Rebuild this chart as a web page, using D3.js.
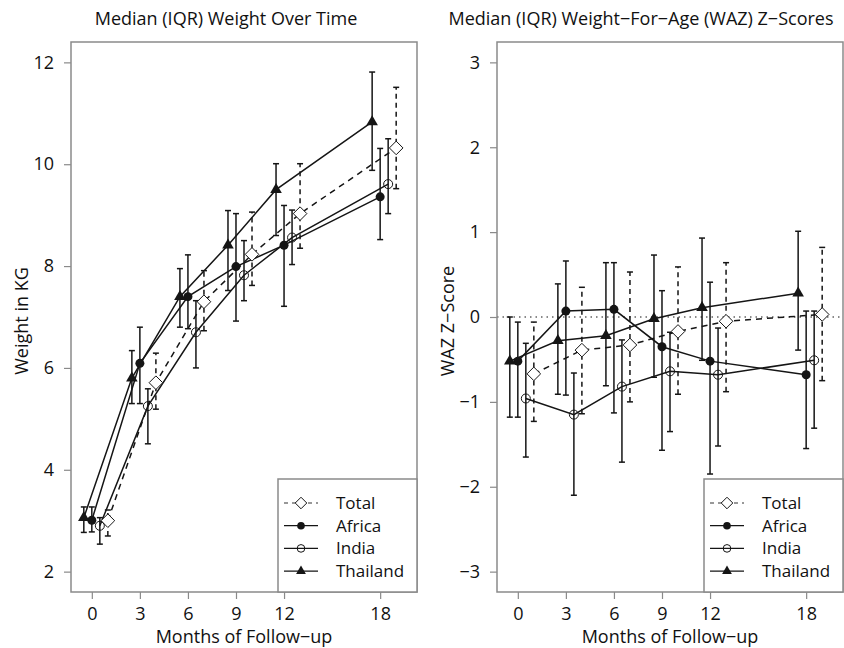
<!DOCTYPE html>
<html>
<head>
<meta charset="utf-8">
<script src="https://cdn.jsdelivr.net/npm/d3@7"></script>
<style>
  body { margin: 0; background: #fff; }
  svg text { font-family: "Open Sans", "Noto Sans", sans-serif; fill: #111; }
</style>
</head>
<body>
<div id="chart"></div>
<script>
// Follow-up months and the horizontal shift used for each group
const months = [0, 3, 6, 9, 12, 18];
const groups = ['Total', 'Africa', 'India', 'Thailand'];
const groupShift = [1, 0, 0.5, -0.5];

// Weight (kg): median, lower quartile, upper quartile
const wtTotalMed = [3.0, 5.71, 7.30, 8.23, 9.03, 10.32];
const wtTotalLo = [2.70, 5.19, 6.73, 7.62, 8.35, 9.52];
const wtTotalHi = [3.21, 6.29, 7.91, 9.06, 10.01, 11.51];
const wtAfricaMed = [3.01, 6.09, 7.40, 7.99, 8.41, 9.36];
const wtAfricaLo = [2.78, 5.30, 6.77, 6.92, 7.21, 8.52];
const wtAfricaHi = [3.27, 6.80, 8.22, 9.03, 9.19, 10.31];
const wtIndiaMed = [2.90, 5.25, 6.70, 7.82, 8.56, 9.61];
const wtIndiaLo = [2.54, 4.51, 6.00, 7.32, 8.03, 9.03];
const wtIndiaHi = [3.06, 5.59, 7.32, 8.50, 9.10, 10.50];
const wtThaiMed = [3.06, 5.80, 7.40, 8.41, 9.50, 10.83];
const wtThaiLo = [2.77, 5.30, 6.80, 7.52, 8.60, 9.88];
const wtThaiHi = [3.27, 6.34, 7.95, 9.09, 10.01, 11.81];

// WAZ z-scores: median, lower quartile, upper quartile
const wazTotalMed = [-0.67, -0.39, -0.33, -0.17, -0.05, 0.03];
const wazTotalLo = [-1.23, -1.14, -1.00, -0.91, -0.88, -0.75];
const wazTotalHi = [-0.06, 0.35, 0.53, 0.59, 0.64, 0.82];
const wazAfricaMed = [-0.52, 0.07, 0.09, -0.35, -0.52, -0.68];
const wazAfricaLo = [-1.18, -0.92, -1.13, -1.57, -1.85, -1.55];
const wazAfricaHi = [-0.06, 0.66, 0.64, 0.31, 0.41, 0.07];
const wazIndiaMed = [-0.96, -1.15, -0.82, -0.64, -0.68, -0.51];
const wazIndiaLo = [-1.65, -2.10, -1.71, -1.35, -1.52, -1.31];
const wazIndiaHi = [-0.31, -0.66, -0.27, -0.18, -0.13, 0.07];
const wazThaiMed = [-0.52, -0.28, -0.22, -0.02, 0.11, 0.28];
const wazThaiLo = [-1.18, -0.91, -0.81, -0.71, -0.51, -0.39];
const wazThaiHi = [0.0, 0.39, 0.64, 0.73, 0.93, 1.01];

const weightTicks = [2, 4, 6, 8, 10, 12];
const wazTicks = [-3, -2, -1, 0, 1, 2, 3];

const width = 844, height = 648;
const ink = '#151515';
const frame = '#8a8a8a';

const svg = d3.select('#chart').append('svg')
    .attr('width', width)
    .attr('height', height);

// Build per-group series from the arrays above
function makeSeries(meds, los, his) {
    return groups.map((g, i) => ({
        name: g,
        points: months.map((m, j) => ({ m: m + groupShift[i], med: meds[i][j], lo: los[i][j], hi: his[i][j] }))
    }));
}

const weightSeries = makeSeries(
    [wtTotalMed, wtAfricaMed, wtIndiaMed, wtThaiMed],
    [wtTotalLo, wtAfricaLo, wtIndiaLo, wtThaiLo],
    [wtTotalHi, wtAfricaHi, wtIndiaHi, wtThaiHi]);
const wazSeries = makeSeries(
    [wazTotalMed, wazAfricaMed, wazIndiaMed, wazThaiMed],
    [wazTotalLo, wazAfricaLo, wazIndiaLo, wazThaiLo],
    [wazTotalHi, wazAfricaHi, wazIndiaHi, wazThaiHi]);

// Marker for each group
function drawMarker(sel, name, size) {
    const s = size || 1;
    if (name === 'Total') {
        const r = 6.8 * s;
        sel.append('path')
            .attr('d', `M0,${-r}L${r},0L0,${r}L${-r},0Z`)
            .attr('fill', '#fff').attr('stroke', ink).attr('stroke-width', 1);
    } else if (name === 'Africa') {
        sel.append('circle').attr('r', 4.5 * s).attr('fill', ink);
    } else if (name === 'India') {
        sel.append('circle').attr('r', 4.5 * s)
            .attr('fill', 'none').attr('stroke', ink).attr('stroke-width', 1);
    } else {
        sel.append('path')
            .attr('d', d3.symbol().type(d3.symbolTriangle).size(58 * s * s)())
            .attr('fill', ink);
    }
}

function panel(opts) {
    const { left, right, top, bottom, yDomain, yTicks, series, title, titleX, yLabel, yLabelX, zeroLine } = opts;

    const x = d3.scaleLinear().domain([-1.3, 20.3]).range([left, right]);
    const y = d3.scaleLinear().domain(yDomain).range([bottom, top]);
    const g = svg.append('g');

    if (zeroLine) {
        g.append('line')
            .attr('x1', left).attr('x2', right)
            .attr('y1', y(0)).attr('y2', y(0))
            .attr('stroke', ink).attr('stroke-width', 1.2)
            .attr('stroke-dasharray', '1.5,4');
    }

    // Axes
    const xAxis = g.append('g')
        .attr('transform', `translate(0,${bottom})`)
        .call(d3.axisBottom(x).tickValues(months).tickSize(7).tickPadding(8).tickFormat(d3.format('d')));
    const yAxis = g.append('g')
        .attr('transform', `translate(${left},0)`)
        .call(d3.axisLeft(y).tickValues(yTicks).tickSize(7).tickPadding(10).tickFormat(d => d < 0 ? '\u2212' + Math.abs(d) : d));
    [xAxis, yAxis].forEach(a => {
        a.select('.domain').remove();
        a.selectAll('line').attr('stroke', frame).attr('stroke-width', 1.2);
        a.selectAll('text').style('font-size', '18px').attr('fill', ink);
    });

    // Error bars
    series.forEach(s => {
        const dash = s.name === 'Total' ? '5,4' : null;
        const bars = g.append('g');
        s.points.forEach(p => {
            bars.append('line')
                .attr('x1', x(p.m)).attr('x2', x(p.m))
                .attr('y1', y(p.lo)).attr('y2', y(p.hi))
                .attr('stroke', ink).attr('stroke-width', 1.5)
                .attr('stroke-dasharray', dash);
            [p.lo, p.hi].forEach(v => {
                bars.append('line')
                    .attr('x1', x(p.m) - 3).attr('x2', x(p.m) + 3)
                    .attr('y1', y(v)).attr('y2', y(v))
                    .attr('stroke', ink).attr('stroke-width', 1.5);
            });
        });
    });

    // Median lines
    const line = d3.line().x(d => x(d.m)).y(d => y(d.med));
    series.forEach(s => {
        g.append('path')
            .datum(s.points)
            .attr('d', line)
            .attr('fill', 'none')
            .attr('stroke', ink)
            .attr('stroke-width', 1.5)
            .attr('stroke-dasharray', s.name === 'Total' ? '6,5' : null);
    });

    // Markers
    series.forEach(s => {
        g.selectAll(null)
            .data(s.points)
            .join('g')
            .attr('transform', d => `translate(${x(d.m)},${y(d.med)})`)
            .each(function () { drawMarker(d3.select(this), s.name); });
    });

    // Frame
    g.append('rect')
        .attr('x', left).attr('y', top)
        .attr('width', right - left).attr('height', bottom - top)
        .attr('fill', 'none').attr('stroke', frame).attr('stroke-width', 1.5);

    // Legend in the lower right corner
    const lgLeft = right - 139, lgTop = bottom - 113;
    const lg = g.append('g');
    lg.append('rect')
        .attr('x', lgLeft).attr('y', lgTop)
        .attr('width', right - lgLeft).attr('height', bottom - lgTop)
        .attr('fill', '#fff').attr('stroke', frame).attr('stroke-width', 1.5);
    groups.forEach((name, i) => {
        const cy = lgTop + 24 + i * 22.7;
        lg.append('line')
            .attr('x1', lgLeft + 6).attr('x2', lgLeft + 40)
            .attr('y1', cy).attr('y2', cy)
            .attr('stroke', name === 'Total' ? '#777' : ink).attr('stroke-width', 1.3)
            .attr('stroke-dasharray', name === 'Total' ? '4,4' : null);
        const m = lg.append('g').attr('transform', `translate(${lgLeft + 23},${cy})`);
        drawMarker(m, name, 0.85);
        lg.append('text')
            .attr('x', lgLeft + 58).attr('y', cy)
            .attr('dy', '0.35em')
            .style('font-size', '17px')
            .text(name);
    });

    // Titles
    svg.append('text')
        .attr('x', titleX).attr('y', 25)
        .attr('text-anchor', 'middle')
        .style('font-size', '18px')
        .text(title);
    svg.append('text')
        .attr('x', (left + right) / 2).attr('y', 643)
        .attr('text-anchor', 'middle')
        .style('font-size', '18px')
        .text('Months of Follow\u2212up');
    svg.append('text')
        .attr('transform', `translate(${yLabelX},${(top + bottom) / 2 + 4}) rotate(-90)`)
        .attr('text-anchor', 'middle')
        .style('font-size', '18px')
        .text(yLabel);
}

panel({
    left: 71, right: 417, top: 42, bottom: 592,
    yDomain: [1.6, 12.4], yTicks: weightTicks, series: weightSeries,
    title: 'Median (IQR) Weight Over Time', titleX: 226,
    yLabel: 'Weight in KG', yLabelX: 28, zeroLine: false
});

panel({
    left: 497, right: 843, top: 42, bottom: 592,
    yDomain: [-3.24, 3.24], yTicks: wazTicks, series: wazSeries,
    title: 'Median (IQR) Weight\u2212For\u2212Age (WAZ) Z\u2212Scores', titleX: 641,
    yLabel: 'WAZ Z\u2212Score', yLabelX: 454, zeroLine: true
});
</script>
</body>
</html>
